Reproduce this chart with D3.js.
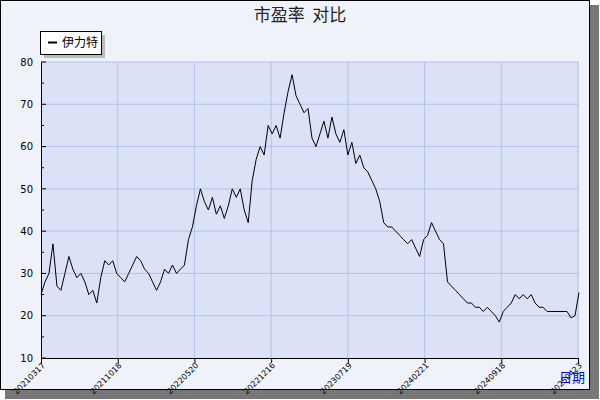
<!DOCTYPE html>
<html><head><meta charset="utf-8">
<script src="https://cdn.jsdelivr.net/npm/d3@7"></script>
<style>body{margin:0;background:#fff}</style>
</head><body>
<svg id="c" width="600" height="400"></svg>
<script>
const tickDates = ["20210317","20211018","20220520","20221216","20230719","20240221","20240918","20250423"];
const yTicks = [10,20,30,40,50,60,70,80];
const seriesName = "伊力特";
const peValues = [25,28,30,37,27,26,30,34,31,29,30,28,25,26,23,29,33,32,33,30,29,28,30,32,34,33,31,30,28,26,28,31,30,32,30,31,32,38,41,46,50,47,45,48,44,46,43,46,50,48,50,45,42,52,57,60,58,65,63,65,62,68,73,77,72,70,68,69,62,60,63,66,62,67,63,61,64,58,61,56,58,55,54,52,50,47,42,41,41,40,39,38,37,38,36,34,38,39,42,40,38,37,28,27,26,25,24,23,23,22,22,21,22,21,20,18.5,21,22,23,25,24,25,24,25,23,22,22,21,21,21,21,21,21,19.5,20,25.5];

const svg = d3.select("#c");
svg.append("rect").attr("x",5).attr("y",5).attr("width",594).attr("height",394).attr("fill","#777");
svg.append("rect").attr("x",0.5).attr("y",0.5).attr("width",589).attr("height",389).attr("fill","#f0f2fa").attr("stroke","#000");

const L=41,R=579,T=62,B=358;
const x = d3.scaleLinear().domain([0,peValues.length-1]).range([L,R]);
const xt = d3.scaleLinear().domain([0,tickDates.length-1]).range([L,578]);
const y = d3.scaleLinear().domain([10,80]).range([B,T]);

svg.append("rect").attr("x",L).attr("y",T).attr("width",R-L).attr("height",B-T).attr("fill","#dbe1f6");
const g = svg.append("g");
tickDates.forEach((d,i)=>{ if(i>0) g.append("line").attr("x1",xt(i)).attr("x2",xt(i)).attr("y1",T).attr("y2",B).attr("stroke","#b4c2ea"); });
yTicks.forEach(v=>{ if(v>10) g.append("line").attr("x1",L).attr("x2",R).attr("y1",y(v)).attr("y2",y(v)).attr("stroke","#b4c2ea"); });

const ya = svg.append("g").attr("transform",`translate(${L},0)`).call(d3.axisLeft(y).tickValues(yTicks).tickSize(0).tickPadding(8));
ya.select(".domain").attr("stroke","#000");
ya.selectAll("text").attr("font-family","DejaVu Sans").attr("font-size",10).attr("fill","#000");
svg.append("g").selectAll("line").data(d3.range(10,81,5)).join("line")
  .attr("x1",L).attr("x2",d=>L+(d%10===0?5:3)).attr("y1",d=>y(d)).attr("y2",d=>y(d)).attr("stroke","#000");

const xa = svg.append("g").attr("transform",`translate(0,${B})`)
  .call(d3.axisBottom(xt).tickValues(d3.range(tickDates.length)).tickFormat(i=>tickDates[i]).tickSize(5).tickSizeOuter(0));
xa.select(".domain").attr("stroke","#000");
xa.selectAll("text").attr("font-family","DejaVu Sans").attr("font-size",8).attr("fill","#000")
  .attr("text-anchor","end").attr("y",0).attr("dy","0").attr("transform","translate(4,8) rotate(-45)");

svg.append("path").datum(peValues).attr("fill","none").attr("stroke","#000").attr("stroke-width",1)
  .attr("d",d3.line().x((d,i)=>x(i)).y(d=>y(d)));

svg.append("text").attr("x",300).attr("y",21).attr("text-anchor","middle").attr("font-family","Noto Sans CJK SC")
  .attr("font-size",17).attr("fill","#222").attr("xml:space","preserve").style("white-space","pre").text("市盈率  对比");
svg.append("text").attr("x",572).attr("y",382).attr("text-anchor","middle").attr("font-family","Noto Sans CJK SC")
  .attr("font-size",13).attr("fill","#0000ee").text("日期");

svg.append("rect").attr("x",44).attr("y",35).attr("width",61).attr("height",23).attr("fill","#bbb");
svg.append("rect").attr("x",40.5).attr("y",31.5).attr("width",61).attr("height",23).attr("fill","#fff").attr("stroke","#000");
svg.append("line").attr("x1",48).attr("x2",57).attr("y1",42.5).attr("y2",42.5).attr("stroke","#000").attr("stroke-width",2);
svg.append("text").attr("x",62).attr("y",47).attr("font-family","Noto Sans CJK SC").attr("font-size",12).attr("fill","#000").text(seriesName);
</script>
</body></html>
